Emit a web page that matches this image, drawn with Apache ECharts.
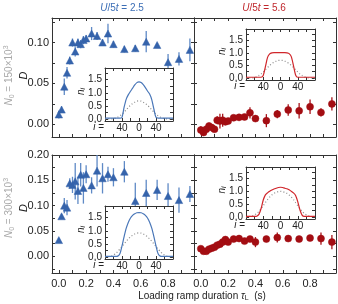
<!DOCTYPE html>
<html><head><meta charset="utf-8">
<script src="https://cdn.jsdelivr.net/npm/echarts@6/dist/echarts.min.js"></script>
<style>html,body{margin:0;padding:0;background:#fff}#c{width:338px;height:304px}</style>
</head><body><div id="c"></div>
<script>
// ---- data ----
const tau = [0,0.02,0.04,0.06,0.08,0.10,0.12,0.14,0.16,0.18,0.20,0.24,0.28,0.32,0.36,0.40,0.48,0.56,0.64,0.72,0.80,0.88,0.96];

const D_U25_N150 = [0.012,0.018,0.046,0.063,0.078,0.100,0.089,0.100,0.098,0.103,0.105,0.111,0.108,0.100,0.111,0.098,0.092,0.093,0.101,0.097,0.076,0.080,0.091];
const E_U25_N150 = [0.005,0.004,0.010,0.007,0.005,0.005,0.006,0.005,0.005,0.005,0.004,0.008,0.005,0.004,0.012,0.004,0.004,0.004,0.013,0.002,0.010,0.008,0.014];

const D_U56_N150 = [-0.007,-0.010,-0.006,-0.002,-0.004,-0.006,0.005,0.004,0.005,0.003,0.004,0.008,0.0085,0.009,0.014,0.007,0.0045,0.0125,0.0175,0.0165,0.0215,0.0146,0.025];
const E_U56_N150 = [0.0045,0.004,0.004,0.004,0.0045,0.003,0.005,0.009,0.008,0.004,0.0035,0.0025,0.004,0.003,0.007,0.004,0.008,0.005,0.007,0.0095,0.009,0.005,0.008];

const D_U25_N300 = [0.032,0.079,0.100,0.096,0.144,0.141,0.148,0.129,0.161,0.135,0.162,0.140,0.169,0.154,0.162,0.156,0.167,0.109,0.125,0.131,0.119,0.111,0.123];
const E_U25_N300 = [0.004,0.004,0.015,0.015,0.010,0.016,0.036,0.026,0.023,0.031,0.018,0.016,0.031,0.030,0.015,0.018,0.021,0.036,0.026,0.020,0.025,0.025,0.016];

const D_U56_N300 = [0.015,0.010,0.010,0.014,0.016,0.018,0.022,0.024,0.028,0.033,0.028,0.034,0.035,0.030,0.034,0.028,0.034,0.037,0.035,0.034,0.036,0.035,0.028];
const E_U56_N300 = [0.004,0.004,0.004,0.004,0.004,0.004,0.004,0.004,0.005,0.005,0.004,0.005,0.006,0.004,0.005,0.010,0.006,0.010,0.005,0.004,0.005,0.012,0.014];

// inset density profiles n_i vs site i
const site = [-80,-75,-70,-65,-60,-55,-50,-45,-40,-35,-30,-25,-20,-15,-10,-5,0,5,10,15,20,25,30,35,40,45,50,55,60,65,70,75,80];
const n_U25_N150_solid = [0.03,0.03,0.03,0.03,0.03,0.03,0.03,0.03,0.06,0.45,0.76,0.93,1.06,1.18,1.30,1.39,1.42,1.39,1.31,1.20,1.07,0.95,0.74,0.38,0.06,0.03,0.03,0.03,0.03,0.03,0.03,0.03,0.03];
const n_U25_N150_dot   = [0,0,0,0,0.01,0.03,0.07,0.12,0.18,0.26,0.35,0.44,0.52,0.59,0.64,0.68,0.69,0.68,0.64,0.59,0.52,0.44,0.35,0.26,0.18,0.12,0.07,0.03,0.01,0,0,0,0];
const n_U56_N150_solid = [0.03,0.03,0.03,0.03,0.03,0.03,0.03,0.03,0.10,0.45,0.82,0.96,1.00,1.01,1.01,1.01,1.01,1.01,1.01,1.00,0.97,0.85,0.50,0.12,0.03,0.03,0.03,0.03,0.03,0.03,0.03,0.03,0.03];
const n_U56_N150_dot   = [0,0,0,0,0.02,0.05,0.10,0.16,0.24,0.33,0.42,0.50,0.57,0.63,0.67,0.70,0.70,0.70,0.67,0.63,0.57,0.50,0.42,0.33,0.24,0.16,0.10,0.05,0.02,0,0,0,0];
const n_U25_N300_solid = [0.02,0.02,0.02,0.02,0.02,0.02,0.03,0.12,0.42,0.78,1.10,1.33,1.49,1.59,1.65,1.69,1.70,1.69,1.65,1.59,1.49,1.33,1.10,0.78,0.42,0.12,0.03,0.02,0.02,0.02,0.02,0.02,0.02];
const n_U25_N300_dot   = [0,0,0.01,0.03,0.07,0.13,0.21,0.30,0.40,0.50,0.60,0.69,0.77,0.83,0.88,0.91,0.92,0.91,0.88,0.83,0.77,0.69,0.60,0.50,0.40,0.30,0.21,0.13,0.07,0.03,0.01,0,0];
const n_U56_N300_solid = [0.02,0.02,0.02,0.02,0.02,0.03,0.10,0.33,0.66,0.86,0.94,1.00,1.05,1.09,1.12,1.15,1.16,1.15,1.12,1.10,1.06,1.00,0.94,0.84,0.60,0.28,0.07,0.02,0.02,0.02,0.02,0.02,0.02];
const n_U56_N300_dot   = [0,0.01,0.02,0.04,0.08,0.14,0.22,0.32,0.44,0.56,0.68,0.78,0.86,0.92,0.96,0.99,1.00,0.99,0.96,0.92,0.86,0.78,0.68,0.56,0.44,0.32,0.22,0.14,0.08,0.04,0.02,0.01,0];

const xTicks = [0,0.1,0.2,0.3,0.4,0.5,0.6,0.7,0.8,0.9];
const xLabels = [0,0.2,0.4,0.6,0.8];
const yTicksTop = [0,0.025,0.05,0.075,0.1,0.125];
const yLabelsTop = [0,0.05,0.1];
const yTicksBot = [-0.025,0,0.025,0.05,0.075,0.1,0.125,0.15,0.175,0.2];
const yLabelsBot = [0,0.05,0.1,0.15,0.2];
const iTicks = [-60,-40,-20,0,20,40,60];
const iLabels = [-40,0,40];
const nTicks = [0,0.25,0.5,0.75,1,1.25,1.5,1.75];
const nLabels = [0,0.5,1,1.5];

// ---- styling / layout ----
const FONT = 'Liberation Sans';
const AX = '#333';
const BLUE = '#3563ab', BLUE_BAR = '#5f8ac6', BLUE_LINE = '#4a77b8';
const RED = '#a30d12', RED_BAR = '#a8151b', RED_LINE = '#d0262b';
const GRAY = '#a9a9a9';
const P = {TL:[52,18,142,119], TR:[194,18,142,119], BL:[52,155,142,118], BR:[194,155,142,118]};
const I = {TL:[105,68,68,53], TR:[246,29,69,51], BL:[105,206,68,53], BR:[246,167,69,52]};

const grids = [], xAxes = [], yAxes = [], series = [];

function addGrid(rect, xc, yc, z, bg) {
  const gi = grids.length;
  grids.push({left:rect[0], top:rect[1], width:rect[2], height:rect[3], show:!!bg,
    backgroundColor:'#fff', borderWidth:0, z:z});
  const line = {show:true, onZero:false, lineStyle:{color:AX, width:1}};
  const tick = v => ({show:true, inside:true, length:3, customValues:v, lineStyle:{color:AX, width:1}});
  const lab = (c) => c.labels ? {show:true, customValues:c.labels, formatter:c.fmt, fontFamily:FONT,
      fontSize:c.fs||11, color:'#222', margin:c.margin} : {show:false};
  const xi = xAxes.length;
  xAxes.push({type:'value', gridIndex:gi, position:'bottom', min:xc.min, max:xc.max, axisLine:line,
    axisTick:tick(xc.ticks), axisLabel:lab(xc), splitLine:{show:false}, z:z+1});
  xAxes.push({type:'value', gridIndex:gi, position:'top', min:xc.min, max:xc.max, axisLine:line,
    axisTick:tick(xc.ticks), axisLabel:{show:false}, splitLine:{show:false}, z:z+1});
  const yi = yAxes.length;
  yAxes.push({type:'value', gridIndex:gi, position:'left', min:yc.min, max:yc.max, axisLine:line,
    axisTick:tick(yc.ticks), axisLabel:lab(yc), splitLine:{show:false}, z:z+1});
  yAxes.push({type:'value', gridIndex:gi, position:'right', min:yc.min, max:yc.max, axisLine:line,
    axisTick:tick(yc.ticks), axisLabel:{show:false}, splitLine:{show:false}, z:z+1});
  return {xi, yi};
}

function mainPanel(rect, top, left, bottom, D, E, sym, col, barCol) {
  const xc = {min:-0.05, max:0.99, ticks:xTicks, labels: bottom ? xLabels : null,
              fmt: v => v.toFixed(1), margin:5};
  const yc = top ? {min:-0.0155, max:0.13, ticks:yTicksTop} : {min:-0.033, max:0.2, ticks:yTicksBot};
  if (left) { yc.labels = top ? yLabelsTop : yLabelsBot; yc.fmt = v => v.toFixed(2); yc.margin = 3; }
  const a = addGrid(rect, xc, yc, 0, false);
  series.push({type:'custom', xAxisIndex:a.xi, yAxisIndex:a.yi, z:2,
    data: tau.map((t,i) => [t, D[i]-E[i], D[i]+E[i]]),
    encode:{x:0, y:[1,2]},
    renderItem: (params, api) => {
      const p1 = api.coord([api.value(0), api.value(1)]);
      const p2 = api.coord([api.value(0), api.value(2)]);
      return {type:'line', shape:{x1:p1[0], y1:p1[1], x2:p2[0], y2:p2[1]},
              style:{stroke:barCol, lineWidth:1.3}};
    }});
  series.push({type:'scatter', xAxisIndex:a.xi, yAxisIndex:a.yi, z:3,
    data: tau.map((t,i) => [t, D[i]]), symbol:sym, symbolSize: sym === 'circle' ? 7 : [7.5,7],
    itemStyle:{color:col, borderColor:col, borderWidth:0.5, opacity:1}});
}

function inset(rect, solid, dot, col) {
  const xc = {min:-80, max:80, ticks:iTicks, labels:iLabels, fmt: v => String(Math.abs(v)), fs:10, margin:2};
  const yc = {min:-0.08, max:1.95, ticks:nTicks, labels:nLabels, fmt: v => v.toFixed(1), fs:10, margin:3};
  const a = addGrid(rect, xc, yc, 5, true);
  series.push({type:'line', xAxisIndex:a.xi, yAxisIndex:a.yi, z:6, showSymbol:false, smooth:0.25,
    data: site.map((s,i) => [s, dot[i]]), lineStyle:{color:'#8c8c8c', width:1.2, type:[1,2.2]}});
  series.push({type:'line', xAxisIndex:a.xi, yAxisIndex:a.yi, z:7, showSymbol:false, smooth:0.25,
    data: site.map((s,i) => [s, solid[i]]), lineStyle:{color:col, width:1.2}});
}

mainPanel(P.TL, true, true, false, D_U25_N150, E_U25_N150, 'triangle', BLUE, BLUE_BAR);
mainPanel(P.TR, true, false, false, D_U56_N150, E_U56_N150, 'circle', RED, RED_BAR);
mainPanel(P.BL, false, true, true, D_U25_N300, E_U25_N300, 'triangle', BLUE, BLUE_BAR);
mainPanel(P.BR, false, false, true, D_U56_N300, E_U56_N300, 'circle', RED, RED_BAR);
inset(I.TL, n_U25_N150_solid, n_U25_N150_dot, BLUE_LINE);
inset(I.TR, n_U56_N150_solid, n_U56_N150_dot, RED_LINE);
inset(I.BL, n_U25_N300_solid, n_U25_N300_dot, BLUE_LINE);
inset(I.BR, n_U56_N300_solid, n_U56_N300_dot, RED_LINE);

// ---- text ----
const graphics = [];
function txt(x, y, text, rich, opts) {
  graphics.push(Object.assign({type:'text', x, y, z:20, style:{text, rich, align:'center',
    verticalAlign:'middle', fontFamily:FONT}}, opts || {}));
}
function titleRich(c) {
  return {i:{fontStyle:'italic', fontSize:10, fill:c, fontFamily:FONT},
          n:{fontSize:10, fill:c, fontFamily:FONT}};
}
txt(122, 8, '{i|U}{n|/5}{i|t}{n| = 2.5}', titleRich('#3d6fb6'));
txt(264, 8, '{i|U}{n|/5}{i|t}{n| = 5.6}', titleRich('#c0282d'));
const dRich = {i:{fontStyle:'italic', fontSize:11, fill:'#222', fontFamily:FONT}};
txt(24, P.TL[1] + P.TL[3]/2 - 2, '{i|D}', dRich, {rotation:Math.PI/2});
txt(24, P.BL[1] + P.BL[3]/2 - 6, '{i|D}', dRich, {rotation:Math.PI/2});
const nRich = {i:{fontStyle:'italic', fontSize:10, fill:GRAY, fontFamily:FONT},
               n:{fontSize:10, fill:GRAY, fontFamily:FONT},
               s:{fontSize:7, fill:GRAY, fontFamily:FONT, verticalAlign:'bottom', padding:[6,0,0,0]},
               p:{fontSize:7, fill:GRAY, fontFamily:FONT, verticalAlign:'top', padding:[0,0,6,0]}};
txt(9, P.TL[1] + P.TL[3]/2 - 2, '{i|N}{s|0}{n| = 150\u00d710}{p|3}', nRich, {rotation:Math.PI/2});
txt(9, P.BL[1] + P.BL[3]/2 - 6, '{i|N}{s|0}{n| = 300\u00d710}{p|3}', nRich, {rotation:Math.PI/2});
const xRich = {n:{fontSize:10, fill:'#222', fontFamily:FONT},
               i:{fontSize:10, fontStyle:'italic', fill:'#222', fontFamily:FONT},
               s:{fontSize:7, fill:'#222', fontFamily:FONT, verticalAlign:'bottom', padding:[5,0,0,0]}};
txt(202, 296, '{n|Loading ramp duration }{i|\u03c4}{s|L}{n|  (s)}', xRich);
const niRich = {i:{fontSize:10, fontStyle:'italic', fill:'#222', fontFamily:FONT},
                s:{fontSize:7, fontStyle:'italic', fill:'#222', fontFamily:FONT, verticalAlign:'bottom', padding:[4,0,0,0]}};
const ieRich = {i:{fontSize:10, fontStyle:'italic', fill:'#222', fontFamily:FONT},
                n:{fontSize:10, fill:'#222', fontFamily:FONT}};
for (const k of ['TL','TR','BL','BR']) {
  const r = I[k];
  txt(r[0] - 24, r[1] + r[3]/2 - 3, '{i|n}{s|i}', niRich, {rotation:Math.PI/2});
  graphics.push({type:'text', x:r[0] - 1, y:r[1] + r[3] + 6, z:20,
    style:{text:'{i|i}{n| =}', rich:ieRich, align:'right', verticalAlign:'middle'}});
}

const chart = echarts.init(document.getElementById('c'), null, {renderer:'canvas'});
chart.setOption({
  animation:false,
  backgroundColor:'#fff',
  grid:grids, xAxis:xAxes, yAxis:yAxes, series:series,
  graphic:graphics
});
</script>
</body></html>
